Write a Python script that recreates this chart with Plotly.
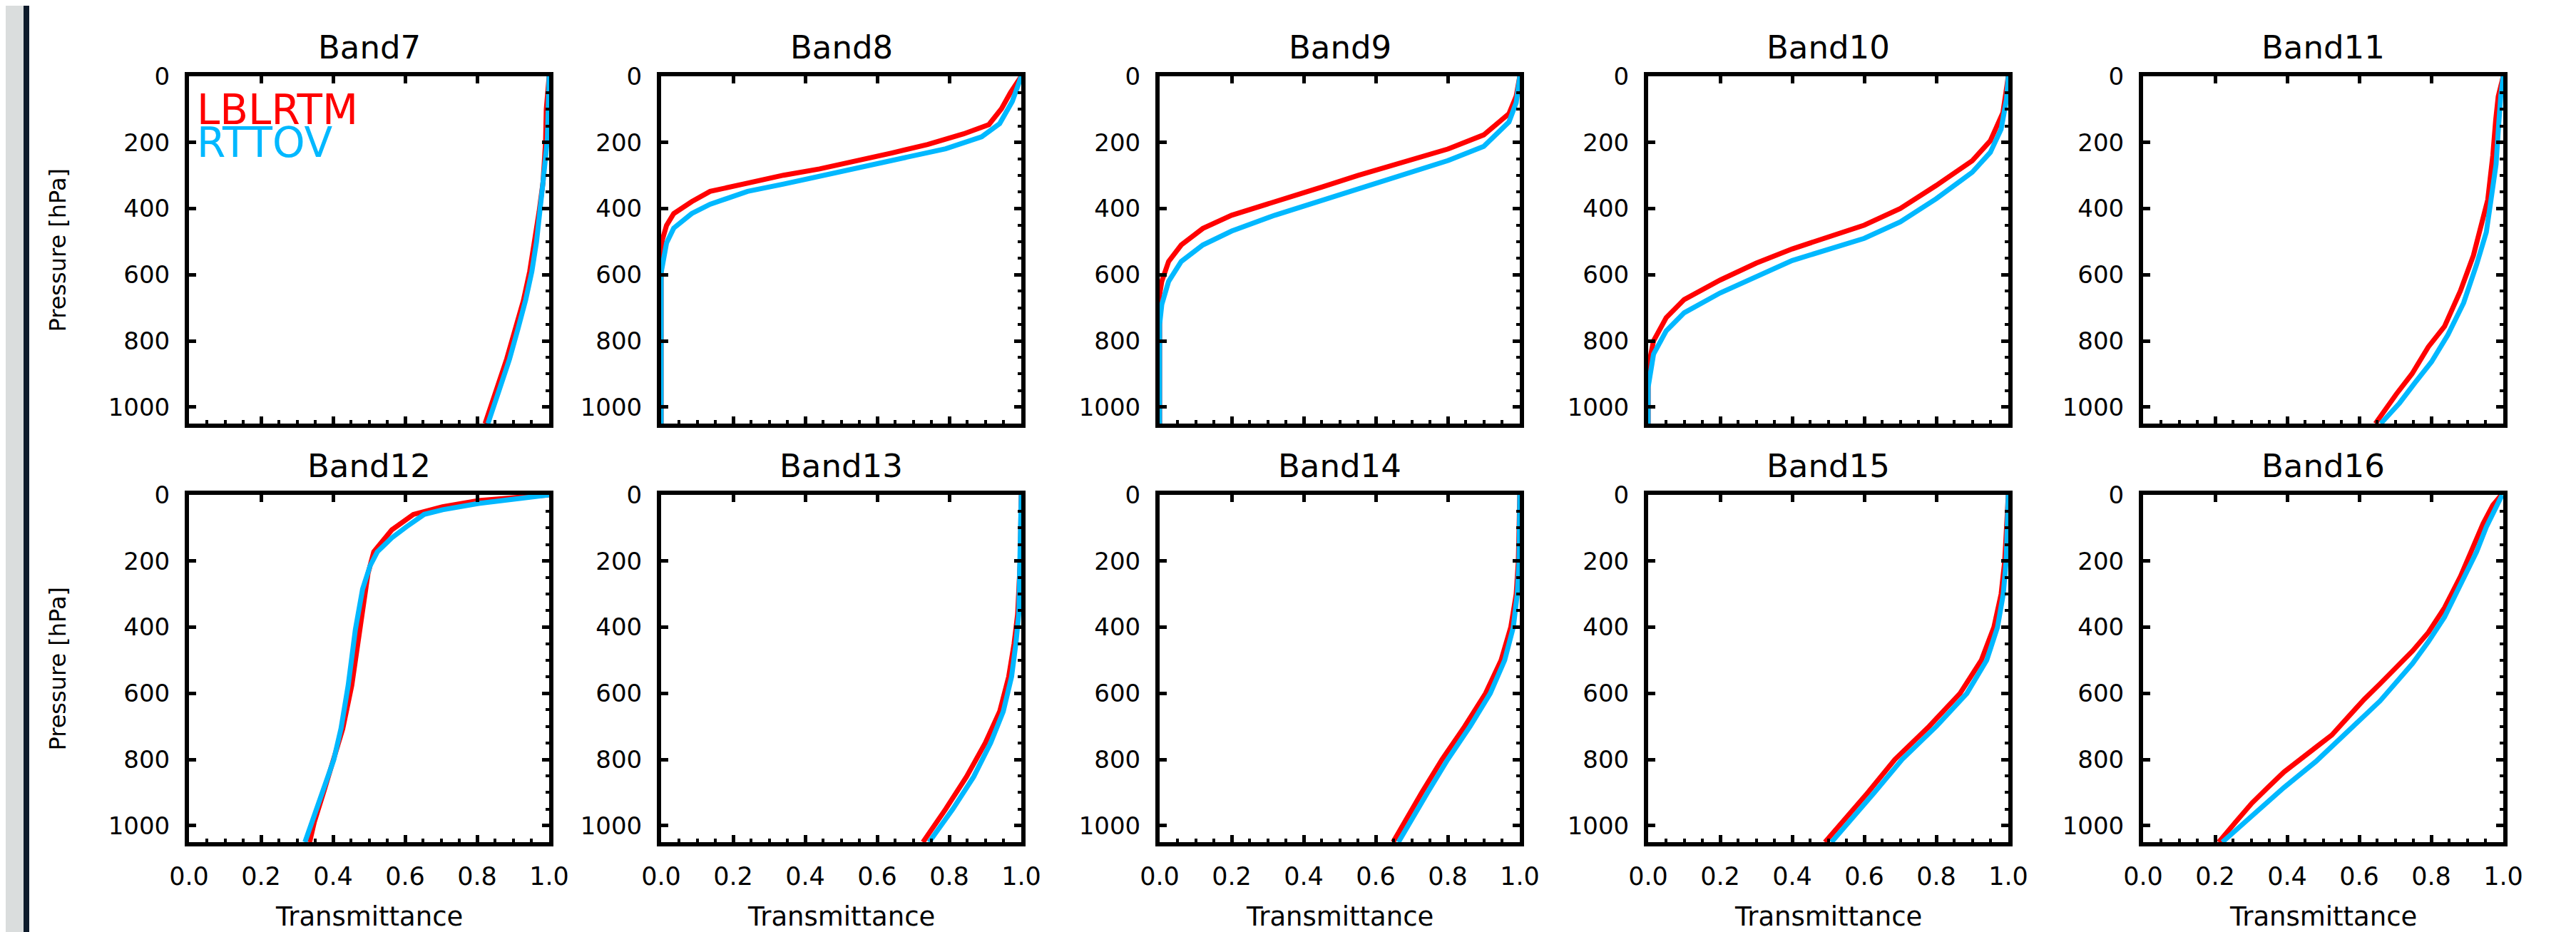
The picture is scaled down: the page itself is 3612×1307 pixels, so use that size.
import plotly.graph_objects as go

W, H = 3612, 1307

band_names = ["Band7", "Band8", "Band9", "Band10", "Band11",
              "Band12", "Band13", "Band14", "Band15", "Band16"]
series_names = ["LBLRTM", "RTTOV"]
series_colors = ["#FF0000", "#00B8FF"]

x_tickvals = [0.0, 0.2, 0.4, 0.6, 0.8, 1.0]
x_ticktext = ["0.0", "0.2", "0.4", "0.6", "0.8", "1.0"]
y_tickvals = [0, 200, 400, 600, 800, 1000]
y_ticktext = ["0", "200", "400", "600", "800", "1000"]

# ---- Band 7
b7_lbl_p = [0, 100, 200, 320, 410, 500, 590, 680, 765, 855, 940, 1050]
b7_lbl_t = [1.0, 0.992, 0.99, 0.983, 0.972, 0.96, 0.946, 0.928, 0.906, 0.882, 0.856, 0.822]
b7_rt_p = [0, 80, 190, 320, 410, 500, 590, 675, 765, 855, 940, 1050]
b7_rt_t = [1.0, 0.999, 0.995, 0.983, 0.975, 0.965, 0.952, 0.935, 0.913, 0.89, 0.864, 0.83]
# ---- Band 8
b8_lbl_p = [0, 49, 98, 146, 174, 206, 232, 255, 280, 299, 322, 348, 379, 415, 451, 496, 567, 1050]
b8_lbl_t = [1.0, 0.97, 0.945, 0.91, 0.84, 0.74, 0.64, 0.54, 0.44, 0.34, 0.24, 0.136, 0.085, 0.035, 0.015, 0.003, 0.0, 0.0]
b8_rt_p = [0, 76, 143, 183, 219, 255, 277, 304, 326, 348, 387, 415, 459, 504, 558, 594, 1050]
b8_rt_t = [1.0, 0.975, 0.94, 0.89, 0.79, 0.64, 0.54, 0.44, 0.34, 0.24, 0.136, 0.085, 0.035, 0.015, 0.005, 0.0, 0.0]
# ---- Band 9
b9_lbl_p = [0, 60, 113, 177, 220, 261, 300, 335, 380, 420, 460, 510, 560, 620, 660, 1050]
b9_lbl_t = [1.0, 0.99, 0.97, 0.9, 0.8, 0.67, 0.55, 0.45, 0.32, 0.2, 0.12, 0.06, 0.025, 0.006, 0.0, 0.0]
b9_rt_p = [0, 80, 138, 212, 255, 300, 340, 375, 420, 468, 510, 560, 620, 690, 750, 1050]
b9_rt_t = [1.0, 0.99, 0.97, 0.9, 0.8, 0.67, 0.55, 0.45, 0.32, 0.2, 0.12, 0.06, 0.025, 0.006, 0.0, 0.0]
# ---- Band 10
b10_lbl_p = [0, 110, 195, 255, 330, 400, 450, 522, 565, 616, 675, 730, 800, 880, 1050]
b10_lbl_t = [1.0, 0.985, 0.95, 0.9, 0.8, 0.7, 0.6, 0.4, 0.3, 0.2, 0.1, 0.05, 0.015, 0.0, 0.0]
b10_rt_p = [0, 70, 160, 230, 290, 370, 440, 490, 557, 605, 655, 715, 770, 840, 940, 1050]
b10_rt_t = [1.0, 0.995, 0.98, 0.95, 0.9, 0.8, 0.7, 0.6, 0.4, 0.3, 0.2, 0.1, 0.05, 0.015, 0.0, 0.0]
# ---- Band 11
b11_lbl_p = [0, 61, 132, 239, 373, 453, 542, 649, 756, 818, 899, 961, 1050]
b11_lbl_t = [1.0, 0.986, 0.979, 0.971, 0.957, 0.939, 0.917, 0.881, 0.837, 0.792, 0.747, 0.703, 0.645]
b11_rt_p = [0, 61, 150, 266, 373, 471, 569, 685, 782, 863, 925, 988, 1050]
b11_rt_t = [1.0, 0.993, 0.987, 0.98, 0.966, 0.953, 0.926, 0.89, 0.846, 0.801, 0.756, 0.712, 0.66]
# ---- Band 12
b12_lbl_p = [0, 17, 36, 59, 106, 172, 238, 313, 425, 576, 707, 801, 895, 989, 1050]
b12_lbl_t = [1.0, 0.804, 0.704, 0.623, 0.563, 0.513, 0.497, 0.487, 0.472, 0.452, 0.427, 0.402, 0.375, 0.348, 0.335]
b12_rt_p = [0, 12, 26, 45, 59, 97, 130, 172, 214, 285, 407, 576, 707, 801, 895, 989, 1050]
b12_rt_t = [1.0, 0.905, 0.804, 0.704, 0.653, 0.603, 0.563, 0.523, 0.503, 0.482, 0.462, 0.442, 0.422, 0.402, 0.372, 0.342, 0.322]
# ---- Band 13
b13_lbl_p = [0, 200, 360, 450, 550, 655, 750, 852, 950, 1050]
b13_lbl_t = [1.0, 0.997, 0.99, 0.98, 0.965, 0.94, 0.9, 0.848, 0.79, 0.727]
b13_rt_p = [0, 200, 360, 450, 550, 655, 750, 852, 950, 1050]
b13_rt_t = [1.0, 0.998, 0.993, 0.985, 0.973, 0.95, 0.915, 0.868, 0.81, 0.744]
# ---- Band 14
b14_lbl_p = [0, 200, 300, 400, 500, 600, 700, 800, 900, 1000, 1050]
b14_lbl_t = [1.0, 0.996, 0.99, 0.975, 0.948, 0.905, 0.847, 0.784, 0.728, 0.675, 0.648]
b14_rt_p = [0, 200, 300, 400, 500, 600, 700, 800, 900, 1000, 1050]
b14_rt_t = [1.0, 0.998, 0.993, 0.982, 0.958, 0.918, 0.862, 0.8, 0.744, 0.69, 0.663]
# ---- Band 15
b15_lbl_p = [0, 100, 200, 300, 400, 500, 600, 700, 800, 900, 1000, 1050]
b15_lbl_t = [1.0, 0.996, 0.99, 0.98, 0.96, 0.925, 0.866, 0.78, 0.685, 0.61, 0.53, 0.491]
b15_rt_p = [0, 100, 200, 300, 400, 500, 600, 700, 800, 900, 1000, 1050]
b15_rt_t = [1.0, 0.998, 0.994, 0.986, 0.97, 0.94, 0.885, 0.8, 0.705, 0.628, 0.548, 0.509]
# ---- Band 16
b16_lbl_p = [0, 31, 87, 153, 247, 341, 416, 472, 524, 571, 618, 670, 726, 763, 801, 838, 885, 932, 989, 1050]
b16_lbl_t = [0.995, 0.971, 0.944, 0.917, 0.881, 0.837, 0.792, 0.748, 0.703, 0.658, 0.614, 0.569, 0.524, 0.48, 0.435, 0.391, 0.346, 0.302, 0.257, 0.21]
b16_rt_p = [0, 40, 97, 172, 275, 369, 444, 510, 623, 716, 806, 885, 970, 1050]
b16_rt_t = [0.997, 0.979, 0.953, 0.926, 0.881, 0.837, 0.792, 0.748, 0.658, 0.569, 0.48, 0.391, 0.302, 0.22]

panels = [
    (b7_lbl_t, b7_lbl_p, b7_rt_t, b7_rt_p),
    (b8_lbl_t, b8_lbl_p, b8_rt_t, b8_rt_p),
    (b9_lbl_t, b9_lbl_p, b9_rt_t, b9_rt_p),
    (b10_lbl_t, b10_lbl_p, b10_rt_t, b10_rt_p),
    (b11_lbl_t, b11_lbl_p, b11_rt_t, b11_rt_p),
    (b12_lbl_t, b12_lbl_p, b12_rt_t, b12_rt_p),
    (b13_lbl_t, b13_lbl_p, b13_rt_t, b13_rt_p),
    (b14_lbl_t, b14_lbl_p, b14_rt_t, b14_rt_p),
    (b15_lbl_t, b15_lbl_p, b15_rt_t, b15_rt_p),
    (b16_lbl_t, b16_lbl_p, b16_rt_t, b16_rt_p),
]

# ---- layout geometry (pixels)
col_left = [257, 919, 1618, 2303, 2997]
panel_w = 505
row_top = [99, 686]
panel_h = 487

FONT = "DejaVu Sans"
BLACK = "#000000"

fig = go.Figure()
layout = dict(
    width=W, height=H,
    margin=dict(l=0, r=0, t=0, b=0, pad=0, autoexpand=False),
    paper_bgcolor="white", plot_bgcolor="white",
    showlegend=False,
    font=dict(family=FONT, color=BLACK, size=34),
)
annotations = []

def px_x(v):
    return v / W

def px_y(v):
    return 1 - v / H

for i, (name, data) in enumerate(zip(band_names, panels)):
    r, c = divmod(i, 5)
    n = i + 1
    no = i + 11
    xs = "" if n == 1 else str(n)
    L = col_left[c]
    T = row_top[r]
    xdom = [px_x(L), px_x(L + panel_w)]
    ydom = [px_y(T + panel_h), px_y(T)]

    lt, lp, rt, rp = data
    fig.add_trace(go.Scatter(x=lt, y=lp, mode="lines", name=series_names[0],
                             line=dict(color=series_colors[0], width=7),
                             xaxis="x" + xs, yaxis="y" + xs))
    fig.add_trace(go.Scatter(x=rt, y=rp, mode="lines", name=series_names[1],
                             line=dict(color=series_colors[1], width=7),
                             xaxis="x" + xs, yaxis="y" + xs))
    # dummy traces to activate the overlay (top / right) tick axes
    fig.add_trace(go.Scatter(x=[None], y=[None], mode="lines", hoverinfo="skip",
                             xaxis="x" + str(no), yaxis="y" + xs))
    fig.add_trace(go.Scatter(x=[None], y=[None], mode="lines", hoverinfo="skip",
                             xaxis="x" + xs, yaxis="y" + str(no)))

    common = dict(showgrid=False, zeroline=False, color=BLACK, automargin=False)
    layout["xaxis" + xs] = dict(
        domain=xdom, anchor="y" + xs, range=[0, 1], **common,
        showline=True, linewidth=6, linecolor=BLACK, mirror=True,
        ticks="inside", ticklen=10, tickwidth=5, tickcolor=BLACK,
        tickvals=x_tickvals, ticktext=x_ticktext,
        showticklabels=(r == 1), tickfont=dict(family=FONT, size=35),
        ticklabelstandoff=12,
        minor=dict(ticks="inside", dtick=0.05, ticklen=5, tickwidth=4,
                   tickcolor=BLACK, showgrid=False),
    )
    layout["yaxis" + xs] = dict(
        domain=ydom, anchor="x" + xs, range=[1050, 0], **common,
        showline=True, linewidth=6, linecolor=BLACK, mirror=True,
        ticks="inside", ticklen=10, tickwidth=5, tickcolor=BLACK,
        tickvals=y_tickvals, ticktext=y_ticktext,
        tickfont=dict(family=FONT, size=34), ticklabelstandoff=14,
    )
    layout["xaxis" + str(no)] = dict(
        overlaying="x" + xs, side="top", anchor="y" + xs, range=[0, 1], **common,
        showline=False, ticks="inside", ticklen=10, tickwidth=5, tickcolor=BLACK,
        tickvals=x_tickvals, showticklabels=False,
    )
    layout["yaxis" + str(no)] = dict(
        overlaying="y" + xs, side="right", anchor="x" + xs, range=[1050, 0], **common,
        showline=False, ticks="inside", ticklen=10, tickwidth=5, tickcolor=BLACK,
        tickvals=y_tickvals, showticklabels=False,
        minor=dict(ticks="inside", dtick=50, ticklen=5, tickwidth=4,
                   tickcolor=BLACK, showgrid=False),
    )

    # subplot title
    title_y = 58 if r == 0 else 645
    annotations.append(dict(text=name, x=px_x(L + panel_w / 2), y=px_y(title_y),
                            xref="paper", yref="paper", xanchor="center", yanchor="middle",
                            showarrow=False, font=dict(family=FONT, size=45, color=BLACK)))
    if c == 0:
        annotations.append(dict(text="Pressure [hPa]", x=px_x(72), y=px_y(T + panel_h / 2),
                                xref="paper", yref="paper", xanchor="center", yanchor="middle",
                                textangle=-90, showarrow=False,
                                font=dict(family=FONT, size=32, color=BLACK)))
    if r == 1:
        annotations.append(dict(text="Transmittance", x=px_x(L + panel_w / 2), y=px_y(1277),
                                xref="paper", yref="paper", xanchor="center", yanchor="middle",
                                showarrow=False, font=dict(family=FONT, size=37, color=BLACK)))

# legend text in Band7 panel
annotations.append(dict(text=series_names[0], x=px_x(266), y=px_y(146), xref="paper", yref="paper",
                        xanchor="left", yanchor="middle", showarrow=False,
                        font=dict(family=FONT, size=58, color=series_colors[0])))
annotations.append(dict(text=series_names[1], x=px_x(266), y=px_y(192), xref="paper", yref="paper",
                        xanchor="left", yanchor="middle", showarrow=False,
                        font=dict(family=FONT, size=58, color=series_colors[1])))

layout["annotations"] = annotations
layout["shapes"] = [
    dict(type="rect", xref="paper", yref="paper", x0=0, x1=px_x(25), y0=0, y1=1,
         fillcolor="#DADDDD", line=dict(width=0), layer="below"),
    dict(type="rect", xref="paper", yref="paper", x0=px_x(25), x1=px_x(33), y0=0, y1=1,
         fillcolor="#0E1B2B", line=dict(width=0), layer="below"),
]
fig.update_layout(**layout)
fig.write_html("out.html")
